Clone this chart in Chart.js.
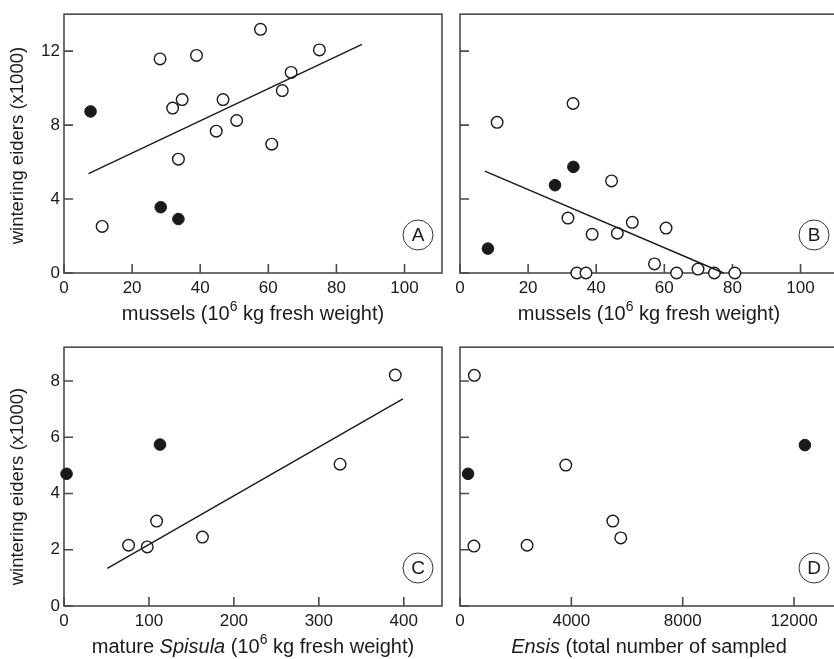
<!DOCTYPE html>
<html>
<head>
<meta charset="utf-8">
<script src="https://cdn.jsdelivr.net/npm/chart.js@4.4.0/dist/chart.umd.min.js"></script>
<style>
  html, body { margin: 0; padding: 0; background: #fff; width: 834px; height: 659px; overflow: hidden; }
  .panel { position: absolute; width: 450px; }
</style>
</head>
<body>
<div class="panel" style="left:0;top:0;height:330px"><canvas id="chartA"></canvas></div>
<div class="panel" style="left:396px;top:0;height:330px"><canvas id="chartB"></canvas></div>
<div class="panel" style="left:0;top:333px;height:326px"><canvas id="chartC"></canvas></div>
<div class="panel" style="left:396px;top:333px;height:326px"><canvas id="chartD"></canvas></div>
<script>
// Panel A: mussels vs wintering eiders
const aOpenX = [57.7, 75.0, 28.2, 38.9, 66.7, 64.1, 34.7, 31.9, 46.7, 50.7, 44.7, 61.0, 33.6, 11.2];
const aOpenY = [13.18, 12.07, 11.58, 11.77, 10.85, 9.87, 9.38, 8.92, 9.38, 8.25, 7.67, 6.97, 6.16, 2.52];
const aFilledX = [7.8, 28.4, 33.6];
const aFilledY = [8.74, 3.56, 2.92];
const aLineX = [7.2, 87.5];
const aLineY = [5.38, 12.37];

// Panel B: mussels (other period)
const bOpenX = [10.9, 33.2, 44.5, 31.7, 50.6, 60.5, 38.8, 46.2, 57.1, 69.9, 34.3, 37.0, 63.6, 74.7, 80.7];
const bOpenY = [8.15, 9.17, 4.98, 2.97, 2.74, 2.43, 2.09, 2.15, 0.49, 0.21, 0, 0, 0, 0, 0];
const bFilledX = [8.2, 27.9, 33.3];
const bFilledY = [1.32, 4.75, 5.74];
const bLineX = [7.3, 77.4];
const bLineY = [5.51, 0];

// Panel C: mature Spisula
const cOpenX = [390, 325, 109, 76, 98, 163];
const cOpenY = [8.21, 5.04, 3.02, 2.16, 2.10, 2.45];
const cFilledX = [3, 113];
const cFilledY = [4.70, 5.74];
const cLineX = [51, 399];
const cLineY = [1.34, 7.36];

// Panel D: Ensis
const dOpenX = [515, 3800, 5490, 5775, 2410, 500];
const dOpenY = [8.20, 5.01, 3.02, 2.42, 2.16, 2.13];
const dFilledX = [290, 12390];
const dFilledY = [4.70, 5.72];

// tick labels
const ticksMussels = [0, 20, 40, 60, 80, 100];
const ticksEidersTop = [0, 4, 8, 12];
const ticksSpisula = [0, 100, 200, 300, 400];
const ticksEnsis = [0, 4000, 8000, 12000];
const ticksEidersBottom = [0, 2, 4, 6, 8];

const FONT = '"Liberation Sans", Arial, Helvetica, sans-serif';
const INK = '#1a1a1a';

function pts(xs, ys) {
  return xs.map((x, i) => ({ x: x, y: ys[i] }));
}

// draws text made of plain / italic / superscript pieces, centered on (cx, cy)
function drawRich(ctx, parts, cx, cy, size) {
  const fontOf = p => (p.i ? 'italic ' : '') + (p.sup ? size * 0.7 : size) + 'px ' + FONT;
  let total = 0;
  parts.forEach(p => { ctx.font = fontOf(p); total += ctx.measureText(p.t).width; });
  let x = cx - total / 2;
  ctx.textBaseline = 'middle';
  ctx.textAlign = 'left';
  parts.forEach(p => {
    ctx.font = fontOf(p);
    ctx.fillText(p.t, x, p.sup ? cy - size * 0.34 : cy);
    x += ctx.measureText(p.t).width;
  });
}

// box, inward ticks, titles and the circled panel letter
const panelDecor = {
  id: 'panelDecor',
  beforeDatasetsDraw(chart, args, opts) {
    const { ctx, chartArea: a, scales } = chart;
    ctx.save();
    ctx.strokeStyle = '#4a4a4a';
    ctx.lineWidth = 1.6;
    ctx.strokeRect(a.left, a.top, a.right - a.left, a.bottom - a.top);
    ctx.beginPath();
    scales.x.ticks.forEach(t => {
      const px = scales.x.getPixelForValue(t.value);
      ctx.moveTo(px, a.bottom);
      ctx.lineTo(px, a.bottom - 9);
    });
    scales.y.ticks.forEach(t => {
      const py = scales.y.getPixelForValue(t.value);
      ctx.moveTo(a.left, py);
      ctx.lineTo(a.left + 9, py);
    });
    ctx.stroke();
    ctx.restore();
  },
  afterDraw(chart, args, opts) {
    const { ctx, chartArea: a } = chart;
    ctx.save();
    ctx.fillStyle = INK;
    drawRich(ctx, opts.xTitle, (a.left + a.right) / 2, a.bottom + 41, 20);
    if (opts.yTitle) {
      ctx.translate(18, (a.top + a.bottom) / 2 + opts.yShift);
      ctx.rotate(-Math.PI / 2);
      drawRich(ctx, [{ t: opts.yTitle }], 0, 0, 18.5);
      ctx.setTransform(1, 0, 0, 1, 0, 0);
    }
    // circled letter
    const cx = a.right - 24, cy = a.bottom - 38;
    ctx.beginPath();
    ctx.arc(cx, cy, 15, 0, Math.PI * 2);
    ctx.strokeStyle = '#333';
    ctx.lineWidth = 1;
    ctx.stroke();
    ctx.font = '19px ' + FONT;
    ctx.textAlign = 'center';
    ctx.textBaseline = 'middle';
    ctx.fillText(opts.letter, cx, cy + 1);
    ctx.restore();
  }
};

function makeChart(id, p) {
  const datasets = [
    {
      data: pts(p.openX, p.openY),
      pointRadius: 5.8,
      pointBorderWidth: 1.4,
      pointBorderColor: INK,
      pointBackgroundColor: '#fff',
      clip: false
    },
    {
      data: pts(p.filledX, p.filledY),
      pointRadius: 5.8,
      pointBorderWidth: 1,
      pointBorderColor: INK,
      pointBackgroundColor: INK,
      clip: false
    }
  ];
  if (p.lineX) {
    datasets.unshift({
      data: pts(p.lineX, p.lineY),
      showLine: true,
      pointRadius: 0,
      borderColor: INK,
      borderWidth: 1.4,
      clip: false
    });
  }
  return new Chart(document.getElementById(id), {
    type: 'scatter',
    data: { datasets: datasets },
    plugins: [panelDecor],
    options: {
      responsive: true,
      maintainAspectRatio: false,
      animation: false,
      events: [],
      layout: { padding: { top: p.top, right: 8, left: 0, bottom: 0 } },
      plugins: {
        legend: { display: false },
        tooltip: { enabled: false },
        panelDecor: { xTitle: p.xTitle, yTitle: p.yTitle, yShift: p.yShift || 0, letter: p.letter }
      },
      scales: {
        x: {
          type: 'linear',
          min: 0,
          max: p.xMax,
          grid: { display: false, drawTicks: false },
          border: { display: false },
          afterBuildTicks: s => { s.ticks = p.xTicks.map(v => ({ value: v })); },
          afterFit: s => { s.height = p.xHeight; },
          ticks: {
            padding: 5,
            color: INK,
            font: { family: FONT, size: 17 },
            maxRotation: 0,
            autoSkip: false,
            callback: v => String(v)
          }
        },
        y: {
          type: 'linear',
          min: 0,
          max: p.yMax,
          grid: { display: false, drawTicks: false },
          border: { display: false },
          afterBuildTicks: s => { s.ticks = p.yTicks.map(v => ({ value: v })); },
          afterFit: s => { s.width = 64; },
          ticks: {
            padding: 4,
            color: INK,
            font: { family: FONT, size: 17 },
            callback: v => (p.yLabels ? String(v) : '')
          }
        }
      }
    }
  });
}

const musselTitle = [{ t: 'mussels (10' }, { t: '6', sup: true }, { t: ' kg fresh weight)' }];

makeChart('chartA', {
  openX: aOpenX, openY: aOpenY, filledX: aFilledX, filledY: aFilledY, lineX: aLineX, lineY: aLineY,
  xMax: 111, yMax: 14, xTicks: ticksMussels, yTicks: ticksEidersTop, yLabels: true,
  top: 7, xHeight: 57, xTitle: musselTitle, yTitle: 'wintering eiders (x1000)', yShift: 2, letter: 'A'
});

makeChart('chartB', {
  openX: bOpenX, openY: bOpenY, filledX: bFilledX, filledY: bFilledY, lineX: bLineX, lineY: bLineY,
  xMax: 111, yMax: 14, xTicks: ticksMussels, yTicks: ticksEidersTop, yLabels: false,
  top: 7, xHeight: 57, xTitle: musselTitle, yTitle: null, letter: 'B'
});

makeChart('chartC', {
  openX: cOpenX, openY: cOpenY, filledX: cFilledX, filledY: cFilledY, lineX: cLineX, lineY: cLineY,
  xMax: 445, yMax: 9.2, xTicks: ticksSpisula, yTicks: ticksEidersBottom, yLabels: true,
  top: 7, xHeight: 53,
  xTitle: [{ t: 'mature ' }, { t: 'Spisula', i: true }, { t: ' (10' }, { t: '6', sup: true }, { t: ' kg fresh weight)' }],
  yTitle: 'wintering eiders (x1000)', yShift: 10, letter: 'C'
});

makeChart('chartD', {
  openX: dOpenX, openY: dOpenY, filledX: dFilledX, filledY: dFilledY,
  xMax: 13580, yMax: 9.2, xTicks: ticksEnsis, yTicks: ticksEidersBottom, yLabels: false,
  top: 7, xHeight: 53,
  xTitle: [{ t: 'Ensis', i: true }, { t: ' (total number of sampled' }],
  yTitle: null, letter: 'D'
});
</script>
</body>
</html>
